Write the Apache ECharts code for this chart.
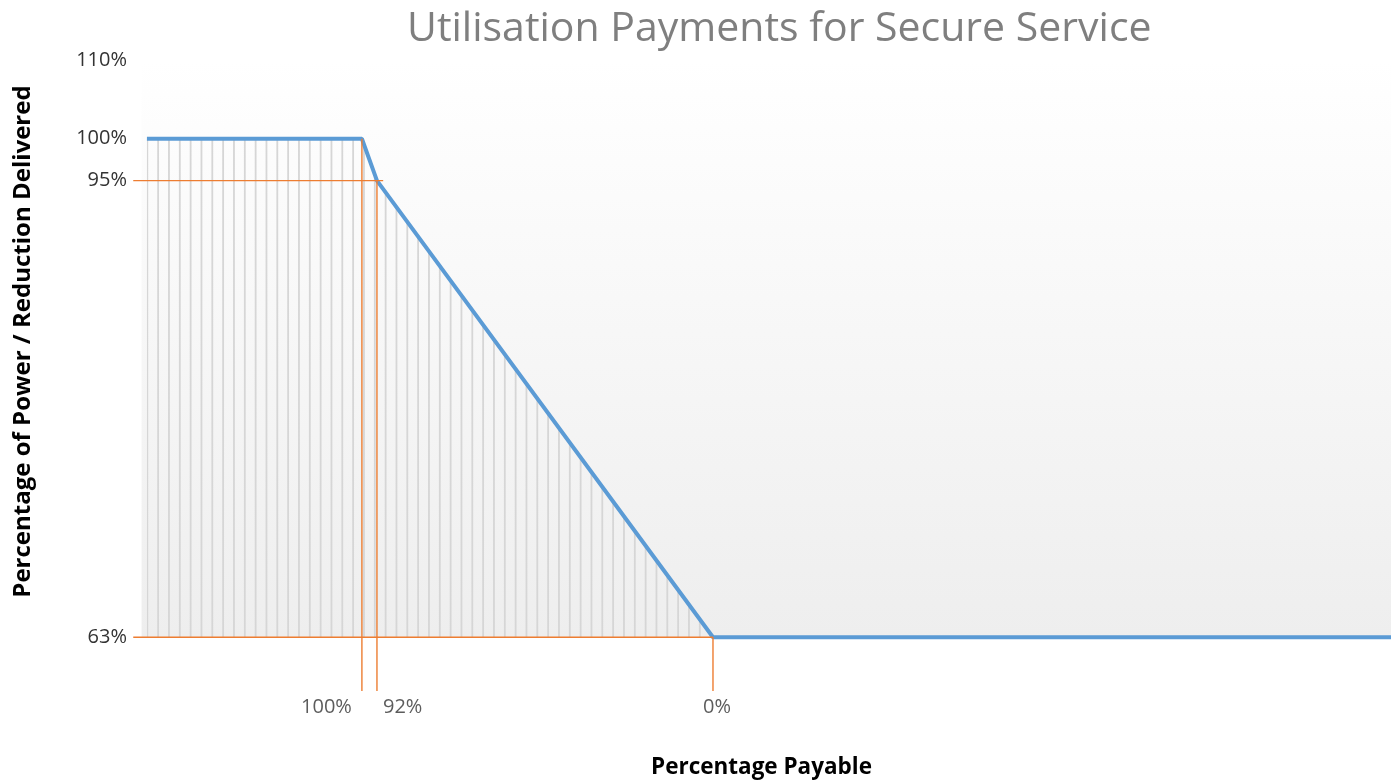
<!DOCTYPE html>
<html>
<head>
<meta charset="utf-8">
<script src="https://cdn.jsdelivr.net/npm/echarts@6/dist/echarts.min.js"></script>
<style>
  html, body { margin: 0; padding: 0; background: #ffffff; }
  #chart { width: 1391px; height: 784px; }
</style>
</head>
<body>
<div id="chart"></div>
<script>
// ---- Data (schematic diagram units) ----
// Y: schematic height of each labelled level (63% level = 0, 110% level = 100)
const yLevelLabels  = ['63%', '95%', '100%', '110%'];
const yLevelHeights = [0, 79.1, 86.36, 100];

// X: schematic position of each labelled break on the "Percentage Payable" axis
const xBreakLabels    = ['100%', '92%', '0%'];
const xBreakPositions = [17.28, 18.49, 45.5];

// Blue curve (schematic x, schematic y)
const curveX = [0, 17.28, 18.49, 45.5, 100];
const curveY = [86.36, 86.36, 79.1, 0, 0];

// ---- Layout / style constants ----
const X_MIN = -1.2, X_MAX = 100;
const Y_MIN = -10,  Y_MAX = 100;
const GUIDE_LEFT = -1.1;     // orange guides start slightly left of plot
const GUIDE_BOTTOM = -9.3;   // orange drop lines end below plot
const GUIDE_OVERSHOOT = 0.5; // 95% guide runs a little past the curve
const BG_LEFT = -0.43;
const ORANGE = '#ed7d31';

const FONT = "'Open Sans', 'Noto Sans', sans-serif";

function makeHatch() {
  const tile = 65, spacing = 65 / 6, phase = 17.3;
  const c = document.createElement('canvas');
  c.width = tile; c.height = 10;
  const g = c.getContext('2d');
  g.fillStyle = '#d6d6d6';
  for (let k = 0; k < 6; k++) {
    const x = (phase + k * spacing) % tile;
    g.fillRect(x - 0.9, 0, 1.8, 10);
  }
  return c;
}

const chart = echarts.init(document.getElementById('chart'), null, { renderer: 'canvas' });

const curveData = curveX.map((x, i) => [x, curveY[i]]);
const h63 = yLevelHeights[0], h95 = yLevelHeights[1], h100 = yLevelHeights[2];

const guides = [
  [[GUIDE_LEFT, h95], [xBreakPositions[1] + GUIDE_OVERSHOOT, h95]],
  [[GUIDE_LEFT, h63], [xBreakPositions[2], h63]],
  [[xBreakPositions[0], h100], [xBreakPositions[0], GUIDE_BOTTOM]],
  [[xBreakPositions[1], h95], [xBreakPositions[1], GUIDE_BOTTOM]],
  [[xBreakPositions[2], h63], [xBreakPositions[2], GUIDE_BOTTOM]]
];

const guideSeries = guides.map(g => ({
  type: 'line',
  data: g,
  symbol: 'none',
  silent: true,
  clip: false,
  z: 4,
  lineStyle: { color: ORANGE, width: 1.4, type: 'solid' },
  emphasis: { disabled: true }
}));

const option = {
  animation: false,
  backgroundColor: '#ffffff',
  title: {
    text: 'Utilisation Payments for Secure Service',
    left: 402,
    top: 4,
    textStyle: { fontFamily: FONT, fontSize: 41, fontWeight: 'normal', color: '#7f7f7f' }
  },
  grid: { left: 132, right: 0, top: 60, bottom: 87, containLabel: false },
  xAxis: {
    type: 'value',
    min: X_MIN, max: X_MAX,
    name: 'Percentage Payable',
    nameLocation: 'middle',
    nameGap: 61,
    nameTextStyle: { fontFamily: FONT, fontSize: 22.5, fontWeight: 'bold', color: '#000000' },
    axisLine: { show: false },
    axisTick: { show: false },
    axisLabel: { show: false },
    splitLine: { show: false }
  },
  yAxis: {
    type: 'value',
    min: Y_MIN, max: Y_MAX,
    name: 'Percentage of Power / Reduction Delivered',
    nameLocation: 'middle',
    nameGap: 97,
    nameRotate: 90,
    nameTextStyle: { fontFamily: FONT, fontSize: 24, fontWeight: 'bold', color: '#000000', padding: [0, 0, 0, 72] },
    axisLine: { show: false },
    axisTick: { show: false },
    splitLine: { show: false },
    axisLabel: {
      show: true,
      customValues: yLevelHeights,
      margin: 5,
      fontFamily: FONT, fontSize: 20, color: '#333333',
      formatter: function (v) {
        const i = yLevelHeights.indexOf(v);
        return i >= 0 ? yLevelLabels[i] : '';
      }
    }
  },
  series: [
    {
      type: 'line',
      data: curveData,
      symbol: 'none',
      smooth: false,
      silent: true,
      z: 3,
      lineStyle: { color: '#5b9bd5', width: 4 },
      areaStyle: { color: { image: makeHatch(), repeat: 'repeat' }, opacity: 1 },
      markArea: {
        silent: true,
        itemStyle: {
          color: new echarts.graphic.LinearGradient(0, 0, 0, 1, [
            { offset: 0, color: '#ffffff' },
            { offset: 1, color: '#eeeeee' }
          ])
        },
        data: [[{ coord: [BG_LEFT, yLevelHeights[3]] }, { coord: [X_MAX, h63] }]]
      }
    }
  ].concat(guideSeries).concat([
    {
      type: 'scatter',
      silent: true,
      symbolSize: 0,
      data: xBreakPositions.map((x, i) => {
        const align = ['right', 'left', 'center'][i];
        const off = [[-10, 0], [6, 0], [4, 0]][i];
        return { value: [x, h63], label: { align: align, offset: off } };
      }),
      label: {
        show: true,
        position: 'bottom',
        distance: 60,
        fontFamily: FONT, fontSize: 20, color: '#333333',
        formatter: function (p) { return xBreakLabels[p.dataIndex]; }
      }
    }
  ])
};

chart.setOption(option);
</script>
</body>
</html>
